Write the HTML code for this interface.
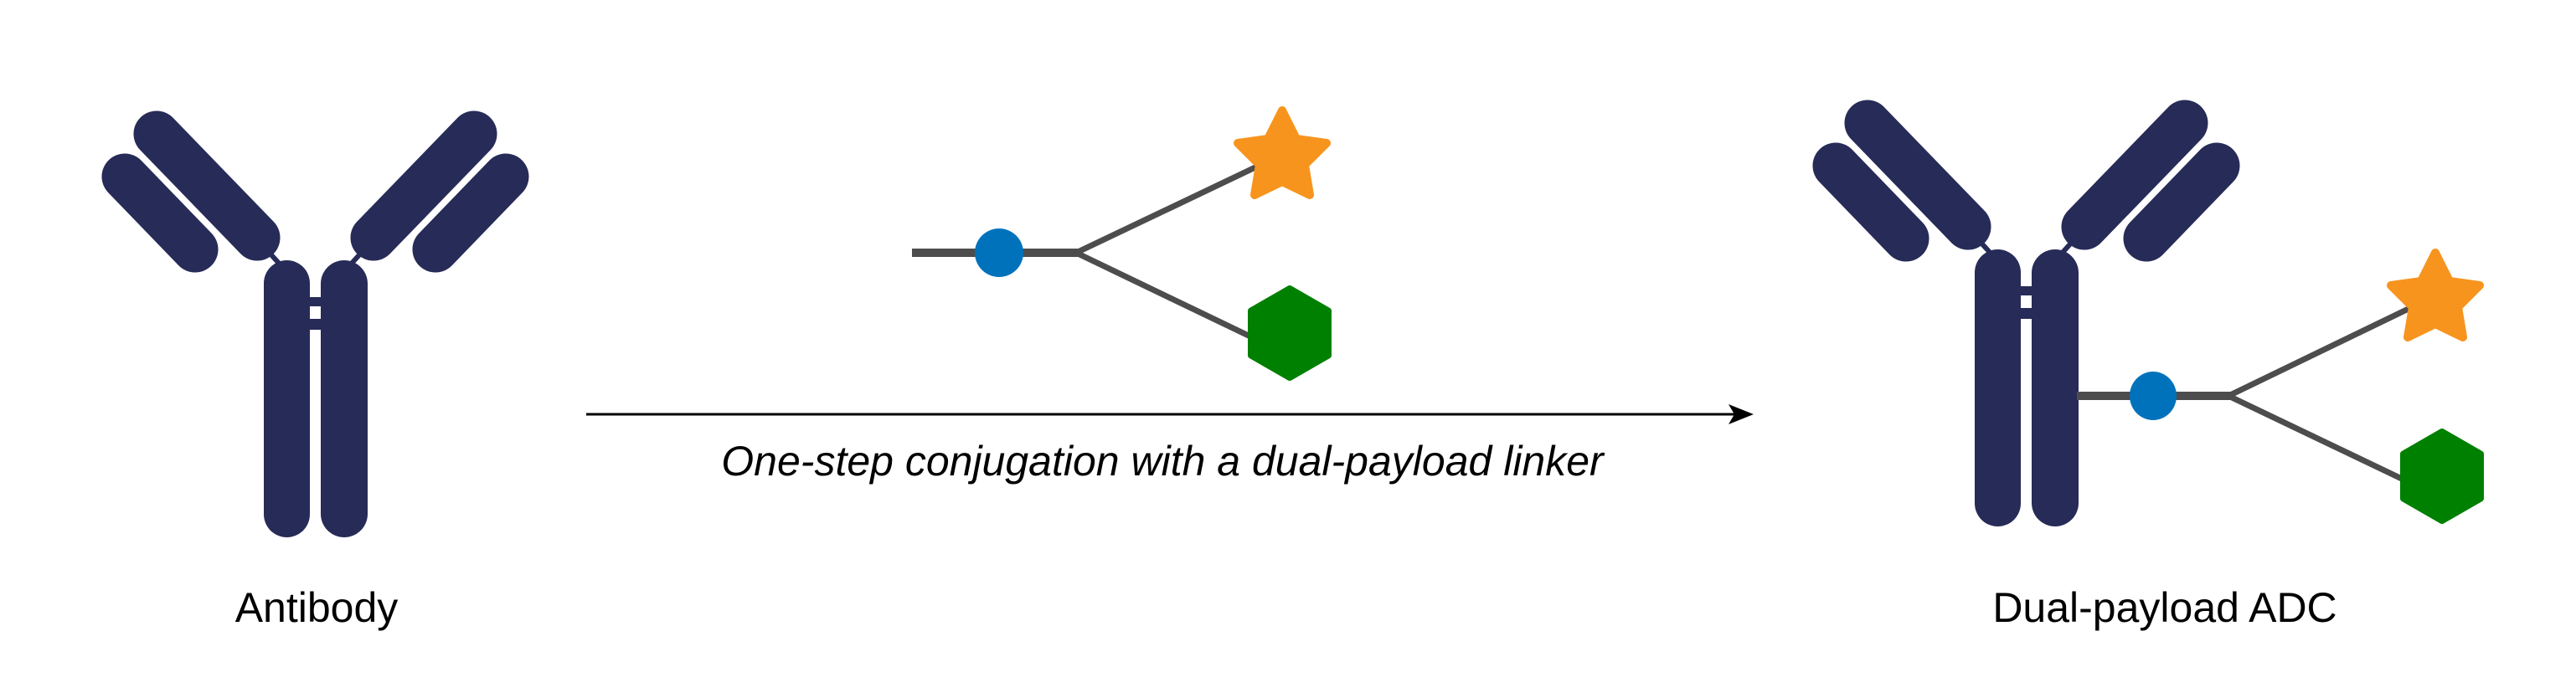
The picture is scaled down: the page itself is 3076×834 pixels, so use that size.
<!DOCTYPE html>
<html><head><meta charset="utf-8"><style>
html,body{margin:0;padding:0;background:#fff;}
svg{display:block;}
</style></head><body>
<svg width="3076" height="834" viewBox="0 0 3076 834" xmlns="http://www.w3.org/2000/svg">
<defs>
<g id="ab">
  <g stroke="#272b57" stroke-linecap="round" fill="none">
    <line x1="187" y1="160" x2="307" y2="284" stroke-width="55"/>
    <line x1="149" y1="211" x2="233" y2="298" stroke-width="55"/>
    <line x1="566" y1="160" x2="446" y2="284" stroke-width="55"/>
    <line x1="604" y1="211" x2="520" y2="298" stroke-width="55"/>
    <line x1="318" y1="298" x2="338" y2="320" stroke-width="6" stroke-linecap="butt"/>
    <line x1="435" y1="298" x2="415" y2="320" stroke-width="6" stroke-linecap="butt"/>
  </g>
  <rect x="315" y="311" width="55" height="331" rx="27.5" fill="#272b57"/>
  <rect x="383" y="311" width="56" height="331" rx="28" fill="#272b57"/>
  <rect x="368" y="355" width="17" height="11" fill="#272b57"/>
  <rect x="368" y="381" width="17" height="13" fill="#272b57"/>
</g>
<g id="star">
  <polygon points="0,-56 17,-22 53,-17 27,9 33,45 0,29 -33,45 -27,9 -53,-17 -17,-22" fill="#f7941e" stroke="#f7941e" stroke-width="10" stroke-linejoin="round"/>
</g>
<g id="hex">
  <polygon points="0,-53 46,-26.5 46,26.5 0,53 -46,26.5 -46,-26.5" fill="#008000" stroke="#008000" stroke-width="8" stroke-linejoin="round"/>
</g>
</defs>

<use href="#ab"/>
<use href="#ab" transform="translate(2043,-13)"/>

<!-- middle linker -->
<g stroke="#4d4d4d" fill="none">
  <line x1="1089" y1="302" x2="1287" y2="302" stroke-width="10"/>
  <line x1="1285" y1="302" x2="1503" y2="198" stroke-width="7"/>
  <line x1="1285" y1="302" x2="1495" y2="403" stroke-width="7"/>
</g>
<ellipse cx="1193" cy="302" rx="29" ry="29" fill="#0072bc"/>
<use href="#star" transform="translate(1531,188)"/>
<use href="#hex" transform="translate(1540,398)"/>

<!-- ADC linker -->
<g stroke="#4d4d4d" fill="none">
  <line x1="2480" y1="473" x2="2663" y2="473" stroke-width="10"/>
  <line x1="2661" y1="473" x2="2880" y2="367" stroke-width="7"/>
  <line x1="2661" y1="473" x2="2872" y2="574" stroke-width="7"/>
</g>
<ellipse cx="2571" cy="473" rx="28" ry="29" fill="#0072bc"/>
<use href="#star" transform="translate(2908,358)"/>
<use href="#hex" transform="translate(2916,569)"/>

<!-- arrow -->
<line x1="700" y1="495" x2="2080" y2="495" stroke="#000" stroke-width="3"/>
<polygon points="2094,495 2064,483 2071,495 2064,507" fill="#000"/>

<text x="1388" y="568" text-anchor="middle" font-family="Liberation Sans, sans-serif" font-style="italic" font-size="50" fill="#000">One-step conjugation with a dual-payload linker</text>
<text x="378" y="743" text-anchor="middle" font-family="Liberation Sans, sans-serif" font-size="50" fill="#000">Antibody</text>
<text x="2585" y="743" text-anchor="middle" font-family="Liberation Sans, sans-serif" font-size="50" fill="#000">Dual-payload ADC</text>
</svg>
</body></html>
